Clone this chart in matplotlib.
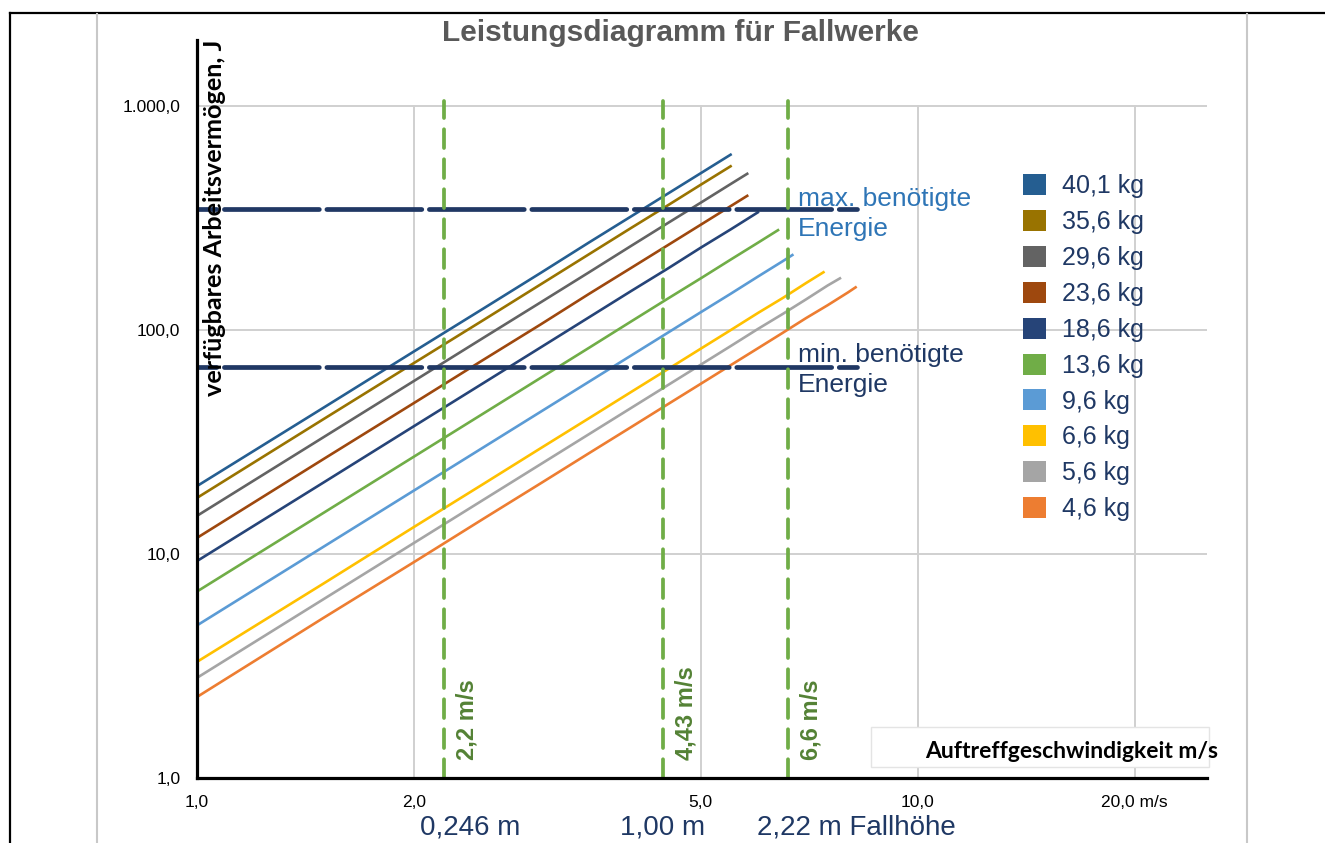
import matplotlib.pyplot as plt
from matplotlib.patches import Patch, Rectangle
from matplotlib.lines import Line2D

W, H = 1325, 843

# masses and colours of the curves
labels = ['40,1 kg', '35,6 kg', '29,6 kg', '23,6 kg', '18,6 kg',
          '13,6 kg', '9,6 kg', '6,6 kg', '5,6 kg', '4,6 kg']
colors = ['#255e91', '#997300', '#636363', '#9e480e', '#264478',
          '#70ad47', '#5b9bd5', '#ffc000', '#a5a5a5', '#ed7d31']

# impact speed (m/s) and available energy (J)
v_401 = [1.0, 1.5, 2.0, 2.5, 3.0, 3.5, 4.0, 4.5, 5.0, 5.5]
e_401 = [20.1, 45.1, 80.2, 125, 180, 246, 321, 406, 501, 606]
v_356 = [1.0, 1.5, 2.0, 2.5, 3.0, 3.5, 4.0, 4.5, 5.0, 5.5]
e_356 = [17.8, 40.1, 71.2, 111, 160, 218, 285, 360, 445, 538]
v_296 = [1.0, 1.5, 2.0, 2.5, 3.0, 3.5, 4.0, 4.5, 5.0, 5.5, 5.8]
e_296 = [14.8, 33.3, 59.2, 92.5, 133, 181, 237, 300, 370, 448, 498]
v_236 = [1.0, 1.5, 2.0, 2.5, 3.0, 3.5, 4.0, 4.5, 5.0, 5.5, 5.8]
e_236 = [11.8, 26.6, 47.2, 73.8, 106, 145, 189, 239, 295, 357, 397]
v_186 = [1.0, 1.5, 2.0, 2.5, 3.0, 3.5, 4.0, 4.5, 5.0, 5.5, 6.0]
e_186 = [9.3, 20.9, 37.2, 58.1, 83.7, 114, 149, 188, 233, 281, 335]
v_136 = [1.0, 1.5, 2.0, 2.5, 3.0, 3.5, 4.0, 4.5, 5.0, 5.5, 6.0, 6.4]
e_136 = [6.8, 15.3, 27.2, 42.5, 61.2, 83.3, 109, 138, 170, 206, 245, 279]
v_96 = [1.0, 1.5, 2.0, 2.5, 3.0, 3.5, 4.0, 4.5, 5.0, 5.5, 6.0, 6.5, 6.7]
e_96 = [4.8, 10.8, 19.2, 30.0, 43.2, 58.8, 76.8, 97.2, 120, 145, 173, 203, 216]
v_66 = [1.0, 1.5, 2.0, 2.5, 3.0, 3.5, 4.0, 4.5, 5.0, 5.5, 6.0, 6.5, 7.0, 7.4]
e_66 = [3.3, 7.4, 13.2, 20.6, 29.7, 40.4, 52.8, 66.8, 82.5, 99.8, 119, 139, 162, 181]
v_56 = [1.0, 1.5, 2.0, 2.5, 3.0, 3.5, 4.0, 4.5, 5.0, 5.5, 6.0, 6.5, 7.0, 7.5, 7.8]
e_56 = [2.8, 6.3, 11.2, 17.5, 25.2, 34.3, 44.8, 56.7, 70.0, 84.7, 101, 118, 137, 158, 170]
v_46 = [1.0, 1.5, 2.0, 2.5, 3.0, 3.5, 4.0, 4.5, 5.0, 5.5, 6.0, 6.5, 7.0, 7.5, 8.0, 8.2]
e_46 = [2.3, 5.2, 9.2, 14.4, 20.7, 28.2, 36.8, 46.6, 57.5, 69.6, 82.8, 97.2, 113, 129, 147, 155]

speeds = [v_401, v_356, v_296, v_236, v_186, v_136, v_96, v_66, v_56, v_46]
energies = [e_401, e_356, e_296, e_236, e_186, e_136, e_96, e_66, e_56, e_46]

# required energy band and marked impact speeds
e_max = 345
e_min = 68
ref_span = [1.0, 8.25]
v_marks = [2.2, 4.43, 6.6]
v_mark_labels = ['2,2 m/s', '4,43 m/s', '6,6 m/s']
drop_heights = ['0,246 m', '1,00 m', '2,22 m Fallhöhe']

x_ticks = [1, 2, 5, 10, 20]
x_ticklabels = ['1,0', '2,0', '5,0', '10,0', '20,0 m/s']
y_ticks = [1, 10, 100, 1000]
y_ticklabels = ['1,0', '10,0', '100,0', '1.000,0']

plt.rcParams['font.family'] = ['Liberation Sans', 'DejaVu Sans']

navy = '#1f3864'
grid_c = '#d0d0d0'


def fx(px):
    return px / W


def fy(py):
    return 1 - py / H


fig = plt.figure(figsize=(W / 100, H / 100), dpi=100)

# page frame like the screenshot
fig.add_artist(Line2D([fx(10), fx(10)], [fy(13), 0], color='black', lw=1.6))
fig.add_artist(Line2D([fx(10), 1], [fy(13), fy(13)], color='black', lw=1.6))
for gx in [97, 1247]:
    fig.add_artist(Line2D([fx(gx), fx(gx)], [fy(14), 0], color='#c8c8c8', lw=1.5))

ax = fig.add_axes([fx(197), fy(778), (1207 - 197) / W, (778 - 40) / H])
ax.set_xscale('log')
ax.set_yscale('log')
ax.set_xlim(1, 25.2)
ax.set_ylim(1, 1970)

# grid
for yt in y_ticks[1:]:
    ax.plot([1, 25.2], [yt, yt], color=grid_c, lw=1.4, zorder=1)
for xt in x_ticks[1:]:
    ax.plot([xt, xt], [1, 1000], color=grid_c, lw=1.4, zorder=1)

for v, e, c in zip(speeds, energies, colors):
    ax.plot(v, e, color=c, lw=1.9, zorder=3)

# required energy lines
for ev in [e_max, e_min]:
    ax.plot(ref_span, [ev, ev], color='#203864', lw=3.4, zorder=4,
            linestyle=(16.0, (20.1, 1.6)), dash_capstyle='round')

# marked impact speeds
for vm, lab in zip(v_marks, v_mark_labels):
    ax.plot([vm, vm], [1, 1050], color='#70ad47', lw=2.7, zorder=4,
            linestyle=(0, (5.0, 3.0)), dash_capstyle='round')
    ax.annotate(lab, (vm, 1), xytext=(17, 13), textcoords='offset points',
                rotation=90, ha='center', va='bottom', fontsize=17,
                fontweight='bold', color='#548235')

ax.set_xticks(x_ticks)
ax.set_xticklabels(x_ticklabels)
ax.set_yticks(y_ticks)
ax.set_yticklabels(y_ticklabels)
ax.minorticks_off()
ax.tick_params(length=0, labelsize=12.5, colors='black')
ax.tick_params(axis='x', pad=12)
ax.tick_params(axis='y', pad=12)
for s in ['top', 'right']:
    ax.spines[s].set_visible(False)
for s in ['left', 'bottom']:
    ax.spines[s].set_linewidth(2.3)
    ax.spines[s].set_zorder(6)

handles = [Patch(facecolor=c, edgecolor='none') for c in colors]
ax.legend(handles, labels, loc='upper left', bbox_to_anchor=(fx(1023), fy(174)),
          bbox_transform=fig.transFigure, frameon=False, fontsize=18,
          handlelength=0.92, handleheight=0.92, handletextpad=0.62,
          labelspacing=0.47, borderpad=0, borderaxespad=0, labelcolor=navy)

# texts
fig.text(fx(680), fy(33), 'Leistungsdiagramm für Fallwerke', ha='center', va='center',
         fontsize=21.5, fontweight='bold', color='#595959')
fig.text(fx(215), fy(40), 'verfügbares Arbeitsvermögen, J', rotation=90,
         ha='center', va='top', fontsize=18.2, fontweight='bold',
         family=['Lato', 'DejaVu Sans'], color='black', zorder=5)

fig.add_artist(Rectangle((fx(871), fy(767)), (1209 - 871) / W, 40 / H,
                         facecolor='white', edgecolor='#e4e4e4', lw=1, zorder=7))
fig.text(fx(925), fy(752), 'Auftreffgeschwindigkeit m/s', ha='left', va='center',
         fontsize=16.5, fontweight='bold', family=['Lato', 'DejaVu Sans'],
         color='black', zorder=8)

fig.text(fx(798), fy(214), 'max. benötigte\nEnergie', ha='left', va='center',
         fontsize=19, color='#2e75b6', linespacing=1.3)
fig.text(fx(798), fy(370), 'min. benötigte\nEnergie', ha='left', va='center',
         fontsize=19, color=navy, linespacing=1.3)

for xp, lab in zip([420, 620, 757], drop_heights):
    fig.text(fx(xp), fy(828), lab, ha='left', va='center', fontsize=20, color=navy)

fig.savefig('out.png', dpi=100)
